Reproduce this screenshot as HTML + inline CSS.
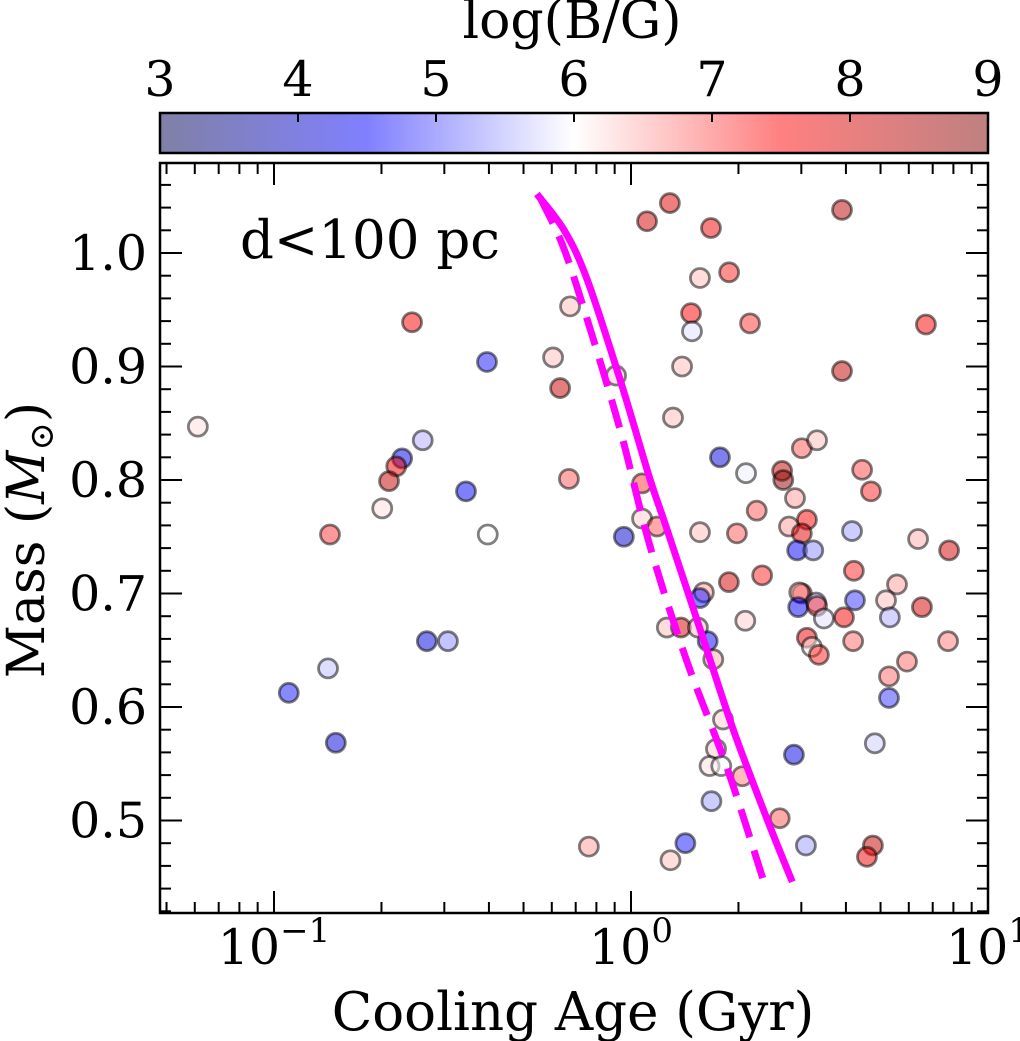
<!DOCTYPE html>
<html><head><meta charset="utf-8">
<style>
html,body{margin:0;padding:0;background:#fff;}
svg{display:block;font-family:"DejaVu Serif","Liberation Serif",serif;}
</style></head>
<body>
<svg id="chart" width="1020" height="1041" viewBox="0 0 1020 1041" xmlns="http://www.w3.org/2000/svg">
<defs>
<linearGradient id="cmap" x1="0" x2="1" y1="0" y2="0">
<stop offset="0" stop-color="rgb(128,128,166)"/>
<stop offset="0.25" stop-color="rgb(128,128,255)"/>
<stop offset="0.5" stop-color="rgb(255,255,255)"/>
<stop offset="0.75" stop-color="rgb(255,128,128)"/>
<stop offset="1" stop-color="rgb(191,128,128)"/>
</linearGradient>
<clipPath id="plotclip"><rect x="160" y="163" width="828" height="750"/></clipPath>
</defs>
<g id="colorbar"></g>
<g id="marks" clip-path="url(#plotclip)"></g>
<g id="axes"></g>
</svg>
<script>
// ---- data ----
const ages = [0.0612,0.2436,0.395,0.605,0.633,0.261,0.2285,0.220,0.210,0.345,0.201,0.1435,0.397,0.268,0.307,0.1417,0.110,0.149,0.762,
1.285,1.109,1.675,3.90,1.56,1.883,0.675,1.473,1.482,2.155,6.70,0.908,1.39,3.90,1.311,1.775,2.10,2.65,2.67,3.01,3.32,4.44,4.70,0.670,1.074,2.88,2.25,3.11,1.074,2.77,1.183,3.01,4.16,1.56,1.98,6.37,0.955,
7.78,2.92,3.24,4.21,1.88,2.33,5.56,1.60,1.56,3.01,2.96,2.94,3.30,3.32,4.24,5.18,6.53,3.47,3.95,5.31,2.09,1.26,1.38,1.54,1.64,3.11,3.21,3.36,4.19,7.73,1.70,5.93,5.28,5.28,1.81,1.73,1.66,1.79,2.05,2.86,4.82,1.68,2.61,1.42,1.29,3.09,4.76,4.58];
const masses = [0.847,0.939,0.904,0.908,0.881,0.835,0.819,0.812,0.799,0.790,0.775,0.752,0.752,0.658,0.658,0.634,0.6125,0.5685,0.477,
1.044,1.028,1.022,1.038,0.978,0.983,0.953,0.947,0.931,0.938,0.937,0.892,0.900,0.896,0.855,0.820,0.806,0.808,0.800,0.828,0.835,0.809,0.790,0.801,0.797,0.784,0.773,0.765,0.766,0.759,0.759,0.753,0.755,0.754,0.753,0.748,0.750,
0.738,0.738,0.738,0.720,0.710,0.716,0.708,0.701,0.696,0.700,0.701,0.688,0.692,0.689,0.694,0.694,0.688,0.678,0.679,0.679,0.676,0.670,0.670,0.670,0.658,0.661,0.653,0.646,0.658,0.658,0.642,0.640,0.627,0.608,0.589,0.563,0.548,0.548,0.539,0.558,0.568,0.517,0.502,0.480,0.465,0.478,0.478,0.468];
const logB = [6.2,7.6,4.6,6.4,8.2,5.5,4.3,7.7,8.2,4.4,6.2,7.2,6.0,4.2,5.3,5.6,4.6,4.2,6.6,
7.9,8.0,7.7,8.3,6.4,7.3,6.4,7.5,5.8,7.2,7.6,6.3,6.4,8.2,6.4,4.2,5.9,8.2,8.8,7.0,6.4,7.1,7.3,7.0,7.2,6.6,7.0,7.5,6.3,6.6,7.0,7.8,5.4,6.4,7.0,6.5,4.1,
8.0,4.5,5.3,7.3,8.0,7.3,6.6,6.6,4.6,7.7,6.5,4.5,5.5,7.2,4.8,6.4,8.0,5.8,7.6,5.5,6.3,6.4,8.0,6.4,4.5,7.7,6.1,7.3,6.9,6.8,6.5,6.9,6.9,4.8,6.3,6.3,6.2,6.0,6.8,4.3,5.7,5.4,7.0,4.6,6.4,5.4,8.2,7.7];
const solidAges = [0.545,0.65,0.753,0.931,1.13,1.26,1.56,1.93,2.40,2.83];
const solidMass = [1.052,1.020,0.977,0.889,0.801,0.757,0.669,0.581,0.502,0.446];
const dashAges = [0.556,0.645,0.753,0.931,1.13,1.435,1.86,2.34];
const dashMass = [1.049,1.006,0.942,0.845,0.742,0.640,0.546,0.449];
const yTicks = [0.5,0.6,0.7,0.8,0.9,1.0];
const xTickExp = [-1,0,1];
const cbTicks = [3,4,5,6,7,8,9];

// ---- scales ----
const X0=160,X1=988,Y0=163,Y1=913;
const LX0=-1.3193, LX1=1.0;
const M0=0.4185, M1=1.0793;
function xs(a){return X0+(Math.log10(a)-LX0)/(LX1-LX0)*(X1-X0);}
function ys(m){return Y1-(m-M0)/(M1-M0)*(Y1-Y0);}
const CB0=160,CB1=988,CBY=113,CBH=40;
function cbx(v){return CB0+(v-3)/6*(CB1-CB0);}
function seismic(v){
  let t=Math.max(0,Math.min(1,(v-3)/6)); let r,g,b;
  if(t<0.25){const s=t/0.25;r=0;g=0;b=0.3+0.7*s;}
  else if(t<0.5){const s=(t-0.25)/0.25;r=s;g=s;b=1;}
  else if(t<0.75){const s=(t-0.5)/0.25;r=1;g=1-s;b=1-s;}
  else {const s=(t-0.75)/0.25;r=1-0.5*s;g=0;b=0;}
  return 'rgba('+Math.round(r*255)+','+Math.round(g*255)+','+Math.round(b*255)+',0.5)';
}
const NS='http://www.w3.org/2000/svg';
function mk(tag,attrs,parent){const e=document.createElementNS(NS,tag);for(const k in attrs)e.setAttribute(k,attrs[k]);parent.appendChild(e);return e;}

const marks=document.getElementById('marks');
const axes=document.getElementById('axes');
const cb=document.getElementById('colorbar');

// points
for(let i=0;i<ages.length;i++){
  const c=mk('circle',{cx:xs(ages[i]),cy:ys(masses[i]),r:9.5,fill:seismic(logB[i]),stroke:'rgba(0,0,0,0.5)','stroke-width':2.8},marks);
  
  
}
// curves (Catmull-Rom smoothing)
function pathOf(a,m){
  const p=a.map((v,i)=>[xs(v),ys(m[i])]);
  let d='M'+p[0][0].toFixed(1)+','+p[0][1].toFixed(1);
  for(let i=0;i<p.length-1;i++){
    const p0=p[Math.max(0,i-1)],p1=p[i],p2=p[i+1],p3=p[Math.min(p.length-1,i+2)];
    const c1=[p1[0]+(p2[0]-p0[0])/6,p1[1]+(p2[1]-p0[1])/6];
    const c2=[p2[0]-(p3[0]-p1[0])/6,p2[1]-(p3[1]-p1[1])/6];
    d+=' C'+c1[0].toFixed(1)+','+c1[1].toFixed(1)+' '+c2[0].toFixed(1)+','+c2[1].toFixed(1)+' '+p2[0].toFixed(1)+','+p2[1].toFixed(1);
  }
  return d;
}
const sl=mk('path',{d:pathOf(solidAges,solidMass),fill:'none',stroke:'#ff00ff','stroke-width':7},marks);


const dl=mk('path',{d:pathOf(dashAges,dashMass),fill:'none',stroke:'#ff00ff','stroke-width':7,'stroke-dasharray':'29,14'},marks);



// frame
const fr=mk('rect',{x:X0,y:Y0,width:X1-X0,height:Y1-Y0,fill:'none',stroke:'#000','stroke-width':2.5},axes);


// x ticks
for(let e=-2;e<=1;e++){
  for(let k=1;k<10;k++){
    const v=k*Math.pow(10,e); const lg=Math.log10(v);
    if(lg<LX0-1e-6||lg>LX1+1e-6)continue;
    const x=xs(v); const len=k===1?22:11;
    mk('line',{x1:x,x2:x,y1:Y1,y2:Y1-len,stroke:'#000','stroke-width':2},axes);
    mk('line',{x1:x,x2:x,y1:Y0,y2:Y0+len,stroke:'#000','stroke-width':2},axes);
  }
}
xTickExp.forEach(e=>{
  const t=mk('text',{x:xs(Math.pow(10,e)),y:964,'font-size':49,'text-anchor':'middle'},axes);
  
  
  const b=mk('tspan',{},t); b.textContent='10';
  const s=mk('tspan',{dy:-22,'font-size':34},t); s.textContent=(e<0?'\u2212':'')+Math.abs(e);
});
// y ticks
for(let m=0.42;m<=1.08;m+=0.02){
  const mm=Math.round(m*100)/100; const y=ys(mm);
  const major=Math.abs(mm*10-Math.round(mm*10))<1e-6; const len=major?22:11;
  mk('line',{x1:X0,x2:X0+len,y1:y,y2:y,stroke:'#000','stroke-width':2},axes);
  mk('line',{x1:X1,x2:X1-len,y1:y,y2:y,stroke:'#000','stroke-width':2},axes);
}
yTicks.forEach(v=>{
  const t=mk('text',{x:147,y:ys(v)+17,'font-size':49,'text-anchor':'end'},axes);
  
  
  t.textContent=v.toFixed(1);
});
// axis titles
const xt=mk('text',{x:573,y:1030,'font-size':53,'text-anchor':'middle'},axes);


xt.textContent='Cooling Age (Gyr)';
const yt=mk('text',{x:0,y:0,'font-size':52,'text-anchor':'middle',transform:'translate(44,540) rotate(-90)'},axes);


const y1=mk('tspan',{},yt); y1.textContent='Mass (';
const y2=mk('tspan',{'font-style':'italic'},yt); y2.textContent='M';
const y3=mk('tspan',{dy:9,'font-size':34},yt); y3.textContent='\u2299';
const y4=mk('tspan',{dy:-9},yt); y4.textContent=')';
// annotation
const an=mk('text',{x:240,y:258,'font-size':53},axes);


an.textContent='d<100 pc';

// colorbar
const cr=mk('rect',{x:CB0,y:CBY,width:CB1-CB0,height:CBH,fill:'url(#cmap)',stroke:'#000','stroke-width':2.5},cb);


cbTicks.forEach(v=>{
  const x=cbx(v);
  if(v>3&&v<9) mk('line',{x1:x,x2:x,y1:CBY,y2:CBY+9,stroke:'#000','stroke-width':2},cb);
  const t=mk('text',{x:x,y:96,'font-size':49,'text-anchor':'middle'},cb);
  
  
  t.textContent=String(v);
});
const ct=mk('text',{x:572,y:38,'font-size':52,'text-anchor':'middle'},cb);


ct.textContent='log(B/G)';
</script>
</body></html>
